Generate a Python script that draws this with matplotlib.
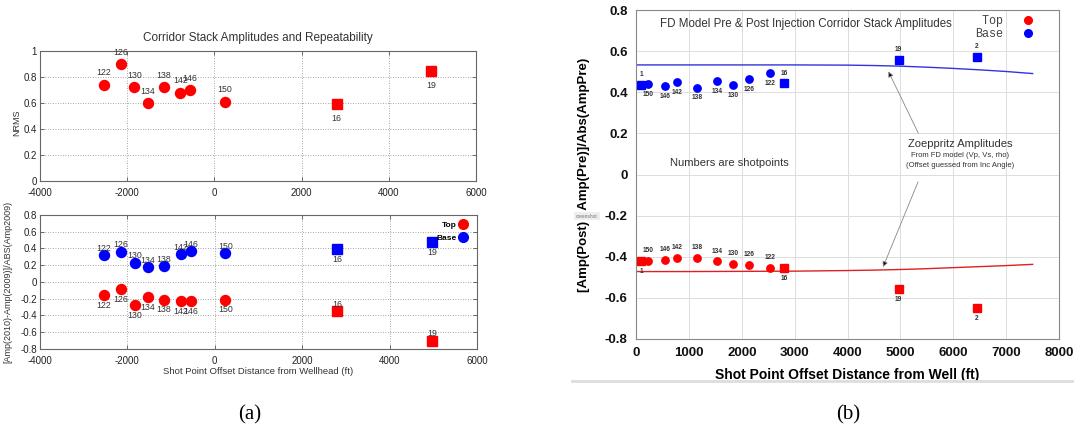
import matplotlib
matplotlib.use('Agg')
import matplotlib.pyplot as plt
from matplotlib.lines import Line2D
from matplotlib.ticker import MultipleLocator, FormatStrFormatter

plt.rcParams['font.family'] = ['Liberation Sans', 'DejaVu Sans']
plt.rcParams['axes.unicode_minus'] = False

# (a) 2009 vs 2010 corridor stacks, offsets signed about the wellhead
a_circ_shots = ['122', '126', '130', '134', '138', '142', '146', '150']
a_circ_off = [-2535, -2144, -1835, -1526, -1160, -782, -555, 240]
a_circ_nrms = [0.74, 0.90, 0.72, 0.60, 0.72, 0.68, 0.70, 0.61]
a_circ_top = [-0.16, -0.08, -0.27, -0.18, -0.21, -0.23, -0.23, -0.21]
a_circ_base = [0.32, 0.36, 0.23, 0.175, 0.19, 0.33, 0.37, 0.34]

a_sq_shots = ['16', '19']
a_sq_off = [2806, 4968]
a_sq_nrms = [0.595, 0.845]
a_sq_top = [-0.35, -0.70]
a_sq_base = [0.39, 0.48]

# (b) FD model, pre/post injection
b_circ_shots = ['150', '146', '142', '138', '134', '130', '126', '122']
b_circ_off = [233, 555, 782, 1160, 1526, 1835, 2144, 2535]
b_circ_base = [0.441, 0.430, 0.448, 0.423, 0.456, 0.436, 0.466, 0.495]
b_circ_top = [-0.419, -0.416, -0.408, -0.405, -0.423, -0.434, -0.440, -0.453]

b_sq_shots = ['1', '16', '19', '2']
b_sq_off = [95, 2806, 4968, 6444]
b_sq_base = [0.435, 0.443, 0.556, 0.571]
b_sq_top = [-0.419, -0.453, -0.556, -0.651]

# Zoeppritz amplitudes
zoe_off = [0, 1000, 2000, 3000, 4000, 4500, 5000, 5500, 6000, 6500, 7000, 7500]
zoe_base = [0.533, 0.533, 0.533, 0.533, 0.532, 0.530, 0.527, 0.522, 0.516, 0.509, 0.501, 0.491]
zoe_top = [-0.472, -0.472, -0.471, -0.470, -0.467, -0.465, -0.462, -0.458, -0.453, -0.448, -0.443, -0.437]

RED = '#ff0000'
BLUE = '#0000ff'

fig = plt.figure(figsize=(10.74, 4.34), dpi=100)
ax1 = fig.add_axes([0.0372, 0.583, 0.406, 0.2995])
ax2 = fig.add_axes([0.0372, 0.1959, 0.4069, 0.3088])
ax3 = fig.add_axes([0.5922, 0.2189, 0.3939, 0.758])


def style_a(ax):
    ax.set_xlim(-4000, 6000)
    ax.xaxis.set_major_locator(MultipleLocator(2000))
    ax.yaxis.set_major_locator(MultipleLocator(0.2))
    ax.yaxis.set_major_formatter(FormatStrFormatter('%g'))
    ax.grid(True, ls=(0, (1, 2)), color='#888888', lw=0.6)
    ax.tick_params(direction='in', top=True, right=True, labelsize=7,
                   length=3, pad=2, width=0.6, color='#555555', labelcolor='#222222')
    ax.tick_params(axis='x', pad=5)
    for s in ax.spines.values():
        s.set_color('#666666')
        s.set_linewidth(0.8)


def label_pts(ax, xs, ys, names, dy, size, weight='normal', color='#333333'):
    for x, y, s in zip(xs, ys, names):
        ax.annotate(s, (x, y), xytext=(0, dy), textcoords='offset points',
                    ha='center', va='center', fontsize=size,
                    fontweight=weight, color=color)


# --- (a) top: NRMS ---
style_a(ax1)
ax1.set_ylim(0, 1)
ax1.plot(a_circ_off, a_circ_nrms, 'o', color=RED, ms=7.2)
ax1.plot(a_sq_off, a_sq_nrms, 's', color=RED, ms=7.5)
label_pts(ax1, a_circ_off, a_circ_nrms, a_circ_shots, 8.5, 6.3)
label_pts(ax1, a_sq_off, a_sq_nrms, a_sq_shots, -10.5, 6.3)
ax1.set_title('Corridor Stack Amplitudes and Repeatability', fontsize=8.5,
              pad=7, color='#333333')
ax1.set_ylabel('NRMS', fontsize=6.5, color='#333333')
ax1.yaxis.set_label_coords(-0.044, 0.45)

# --- (a) bottom: relative amplitude change ---
style_a(ax2)
ax2.set_ylim(-0.8, 0.8)
ax2.plot(a_circ_off, a_circ_base, 'o', color=BLUE, ms=7.2)
ax2.plot(a_sq_off, a_sq_base, 's', color=BLUE, ms=7.5)
ax2.plot(a_circ_off, a_circ_top, 'o', color=RED, ms=7.2)
ax2.plot(a_sq_off, a_sq_top, 's', color=RED, ms=7.5)
label_pts(ax2, a_circ_off, a_circ_base, a_circ_shots, 5, 6.3)
label_pts(ax2, a_sq_off, a_sq_base, a_sq_shots, -7.5, 6.3)
label_pts(ax2, a_circ_off, a_circ_top, a_circ_shots, -7.5, 6.3)
label_pts(ax2, a_sq_off, a_sq_top, a_sq_shots, 5, 6.3)
ax2.set_xlabel('Shot Point Offset Distance from Wellhead (ft)', fontsize=6.8,
               color='#333333', labelpad=1)
ax2.set_ylabel('[Amp(2010)-Amp(2009)]/ABS(Amp2009)', fontsize=6.5, color='#333333')
ax2.yaxis.set_label_coords(-0.064, 0.5)

hnd_a = [Line2D([], [], ls='none', marker='o', color=RED, ms=7),
         Line2D([], [], ls='none', marker='o', color=BLUE, ms=7)]
ax2.legend(hnd_a, ['Top', 'Base'], loc='upper right', bbox_to_anchor=(0.978, 0.955),
           markerfirst=False, frameon=False, prop=dict(size=6, weight='bold'),
           handlelength=1, handletextpad=0.3, labelspacing=0.6,
           borderpad=0, borderaxespad=0)

# --- (b) FD model ---
ax3.set_xlim(0, 8000)
ax3.set_ylim(-0.8, 0.8)
ax3.xaxis.set_major_locator(MultipleLocator(1000))
ax3.yaxis.set_major_locator(MultipleLocator(0.2))
ax3.yaxis.set_major_formatter(FormatStrFormatter('%g'))
ax3.grid(True, color='#dddddd', lw=0.7)
ax3.set_axisbelow(True)
ax3.tick_params(length=0, pad=6, labelsize=9.5, labelcolor='#111111')
for lab in ax3.get_xticklabels() + ax3.get_yticklabels():
    lab.set_fontweight('bold')
for s in ax3.spines.values():
    s.set_color('#888888')
    s.set_linewidth(0.8)

ax3.plot(zoe_off, zoe_base, color='#3333dd', lw=1)
ax3.plot(zoe_off, zoe_top, color='#e02020', lw=1)
ax3.plot(b_circ_off, b_circ_base, 'o', color=BLUE, ms=5.3)
ax3.plot(b_sq_off, b_sq_base, 's', color=BLUE, ms=5.3)
ax3.plot(b_circ_off, b_circ_top, 'o', color=RED, ms=5.3)
ax3.plot(b_sq_off, b_sq_top, 's', color=RED, ms=5.3)
label_pts(ax3, b_circ_off, b_circ_base, b_circ_shots, -7.5, 4.8, 'bold')
label_pts(ax3, b_sq_off, b_sq_base, b_sq_shots, 7.5, 4.8, 'bold')
label_pts(ax3, b_circ_off, b_circ_top, b_circ_shots, 7.5, 4.8, 'bold')
label_pts(ax3, b_sq_off, b_sq_top, b_sq_shots, -7.5, 4.8, 'bold')

ax3.text(454, 0.733, 'FD Model Pre & Post Injection Corridor Stack Amplitudes',
         fontsize=8.3, va='center', color='#333333')
ax3.text(643, 0.058, 'Numbers are shotpoints', fontsize=8, va='center',
         color='#333333')
ax3.text(6129, 0.148, 'Zoeppritz Amplitudes', fontsize=8, ha='center',
         va='center', color='#333333')
ax3.text(6129, 0.092, 'From FD model (Vp, Vs, rho)', fontsize=5.5, ha='center',
         va='center', color='#333333')
ax3.text(6129, 0.044, '(Offset guessed from Inc Angle)', fontsize=5.5,
         ha='center', va='center', color='#333333')

arrow = dict(arrowstyle='-|>', ec='#888888', fc='black', lw=0.6,
             mutation_scale=8, shrinkA=0, shrinkB=0)
ax3.annotate('', xy=(4773, 0.501), xytext=(5340, 0.20), arrowprops=arrow)
ax3.annotate('', xy=(4671, -0.45), xytext=(5333, -0.036), arrowprops=arrow)

ax3.set_xlabel('Shot Point Offset Distance from Well (ft)', fontsize=10,
               fontweight='bold', labelpad=6)
ax3.set_ylabel('[Amp(Post) - Amp(Pre)]/Abs(AmpPre)', fontsize=9.5,
               fontweight='bold')
ax3.yaxis.set_label_coords(-0.108, 0.5)

hnd_b = [Line2D([], [], ls='none', marker='o', color=RED, ms=5.5),
         Line2D([], [], ls='none', marker='o', color=BLUE, ms=5.5)]
leg = ax3.legend(hnd_b, [' Top', 'Base'], loc='upper right',
                 bbox_to_anchor=(0.941, 0.985), markerfirst=False, frameon=False,
                 prop=dict(family='Liberation Mono', size=8.5),
                 handlelength=1, handletextpad=1.6, labelspacing=0.1,
                 borderpad=0, borderaxespad=0)
for t in leg.get_texts():
    t.set_color('#444444')

# screenshot tab and frame line along the bottom of panel (b)
fig.text(587 / 1074, 1 - 216 / 434, 'creenshot', fontsize=3.5, color='#777777',
         ha='center', va='center', zorder=5,
         bbox=dict(boxstyle='square,pad=0.4', fc='#eeeeee', ec='none'))
fig.add_artist(Line2D([572 / 1074, 1.0], [1 - 381 / 434] * 2,
                      color='#dddddd', lw=2))

fig.text(250 / 1074, 1 - 415 / 434, '(a)', family='Liberation Serif',
         fontsize=15, ha='center', va='center')
fig.text(848 / 1074, 1 - 415 / 434, '(b)', family='Liberation Serif',
         fontsize=15, ha='center', va='center')

fig.savefig('out.png', dpi=100)
